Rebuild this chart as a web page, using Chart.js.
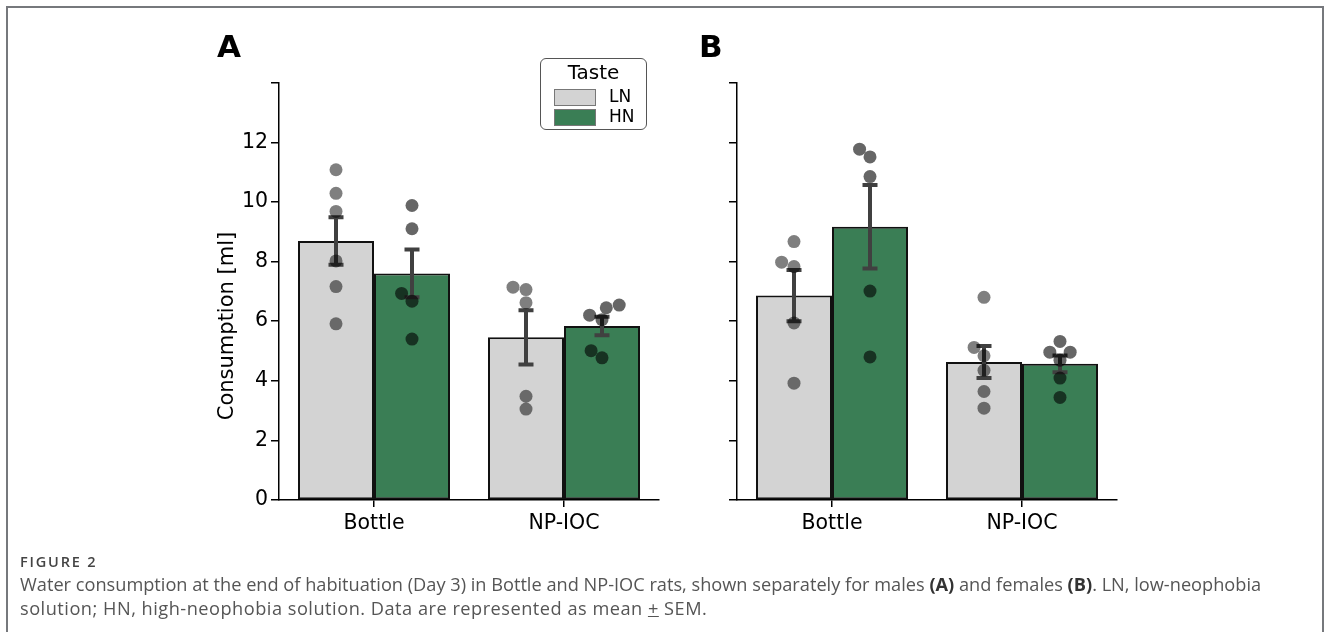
<!DOCTYPE html>
<html>
<head>
<meta charset="utf-8">
<script src="https://cdn.jsdelivr.net/npm/chart.js@4.4.0/dist/chart.umd.min.js"></script>
<style>
  body { margin: 0; width: 1330px; height: 632px; background: #fff; overflow: hidden; position: relative; font-family: 'DejaVu Sans', sans-serif; }
  .frame { position: absolute; left: 6px; top: 6px; width: 1314px; height: 640px; border: 2px solid #76787c; border-bottom: none; }
  .panel { position: absolute; top: 0; width: 670px; height: 560px; }
  .panel canvas { position: absolute; left: 0; top: 0; }
  .letter { position: absolute; top: 31px; font: bold 31px/31px 'DejaVu Sans', sans-serif; color: #000; }
  .ytitle { position: absolute; left: 225.5px; top: 326px; transform: translate(-50%, -50%) rotate(-90deg); font: 21px/21px 'DejaVu Sans', sans-serif; white-space: nowrap; color: #000; }
  .legend { position: absolute; left: 540px; top: 58px; width: 105px; height: 70px; border: 1px solid #555; border-radius: 6px; background: #fff; z-index: 5; }
  .legend .title { position: absolute; left: 0; width: 100%; top: 1px; text-align: center; font: 20px/24px 'DejaVu Sans', sans-serif; }
  .legend .row { position: absolute; left: 13px; height: 16px; }
  .legend .sw { position: absolute; left: 0; top: 0; width: 40px; height: 15px; border: 1px solid #777; }
  .legend .lab { position: absolute; left: 55px; top: -3px; font: 17px/20px 'DejaVu Sans', sans-serif; }
  .caption { position: absolute; left: 20px; top: 553px; font-family: 'Open Sans', sans-serif; color: #555; }
  .caption .fig { font-size: 14.5px; line-height: 18px; font-weight: 600; color: #444; letter-spacing: 1.8px; }
  .caption .txt { font-size: 18.2px; line-height: 23.5px; white-space: nowrap; margin-top: 2px; }
  .caption .l2 { letter-spacing: 0.5px; }
  .caption b { color: #333; }
</style>
</head>
<body>
<div class="frame"></div>

<div class="panel" style="left:0">
  <canvas id="barsA" width="670" height="560"></canvas>
  <canvas id="dotsA" width="670" height="560"></canvas>
</div>
<div class="panel" style="left:458px">
  <canvas id="barsB" width="670" height="560"></canvas>
  <canvas id="dotsB" width="670" height="560"></canvas>
</div>

<div class="letter" style="left:217px">A</div>
<div class="letter" style="left:699px">B</div>
<div class="ytitle">Consumption [ml]</div>

<div class="legend">
  <div class="title">Taste</div>
  <div class="row" style="top:30px"><div class="sw" style="background:#d3d3d3"></div><div class="lab">LN</div></div>
  <div class="row" style="top:50px"><div class="sw" style="background:#3a7e55"></div><div class="lab">HN</div></div>
</div>

<div class="caption">
  <div class="fig">FIGURE 2</div>
  <div class="txt">Water consumption at the end of habituation (Day 3) in Bottle and NP-IOC rats, shown separately for males <b>(A)</b> and females <b>(B)</b>. LN, low-neophobia<br><span class="l2">solution; HN, high-neophobia solution. Data are represented as mean <u>+</u> SEM.</span></div>
</div>

<script>
// groups on the x axis
const groups = ['Bottle', 'NP-IOC'];
const yTicks = [0, 2, 4, 6, 8, 10, 12, 14];

// males (A): bar means and SEM, per group
const maleLNMean = [8.69, 5.46];
const maleHNMean = [7.60, 5.84];
const maleLNSem = [0.80, 0.91];
const maleHNSem = [0.80, 0.31];

// females (B)
const femaleLNMean = [6.86, 4.63];
const femaleHNMean = [9.17, 4.57];
const femaleLNSem = [0.86, 0.54];
const femaleHNSem = [1.40, 0.28];

// individual rats, [Bottle values, NP-IOC values]
const maleLNRats = [[11.08, 10.29, 9.68, 8.02, 7.16, 5.91], [7.06, 7.14, 6.62, 3.48, 3.05]];
const maleHNRats = [[9.88, 9.10, 6.93, 6.67, 5.40], [6.20, 6.05, 6.45, 6.54, 5.01, 4.77]];
const femaleLNRats = [[8.67, 7.98, 7.83, 5.94, 3.92], [6.80, 5.12, 4.84, 4.35, 3.64, 3.08]];
const femaleHNRats = [[11.77, 11.51, 10.85, 7.01, 4.80], [5.32, 4.96, 4.96, 4.69, 4.09, 3.44]];

const LN_COLOR = '#d3d3d3';
const HN_COLOR = '#3a7e55';
const DOT_R = 6.5;
const PADDING = { left: 0, right: 11, top: 82.7, bottom: 20 };
const Y_AXIS_W = 279;
const X_AXIS_H = 40;

// barras de erro (media +- SEM), desenhadas logo depois de cada dataset de barras
const errorBarPlugin = {
    id: 'errorBars',
    afterDatasetDraw(chart, args) {
        const ds = chart.data.datasets[args.index];
        if (!ds.sem) return;
        const ctx = chart.ctx;
        const y = chart.scales.y;
        ctx.save();
        ctx.strokeStyle = '#404040';
        ctx.lineWidth = 4;
        args.meta.data.forEach((bar, i) => {
            const top = y.getPixelForValue(ds.data[i] + ds.sem[i]);
            const bot = y.getPixelForValue(ds.data[i] - ds.sem[i]);
            ctx.beginPath();
            ctx.moveTo(bar.x, top); ctx.lineTo(bar.x, bot);
            ctx.moveTo(bar.x - 7.5, top); ctx.lineTo(bar.x + 7.5, top);
            ctx.moveTo(bar.x - 7.5, bot); ctx.lineTo(bar.x + 7.5, bot);
            ctx.stroke();
        });
        ctx.restore();
    }
};

// beeswarm like seaborn's swarmplot, in pixel space
function swarm(values, cx, yScale, r) {
    const pts = values.map(v => ({ v: v, x: cx, y: -yScale.getPixelForValue(v) }))
        .sort((a, b) => a.y - b.y);
    const placed = [pts[0]];
    for (let k = 1; k < pts.length; k++) {
        const p = pts[k];
        const nb = [];
        for (let j = placed.length - 1; j >= 0; j--) {
            if (p.y - placed[j].y < 2 * r) nb.unshift(placed[j]); else break;
        }
        let cands = [p.x];
        let leftFirst = true;
        nb.forEach(q => {
            const dy = p.y - q.y;
            const dx = Math.sqrt(Math.max(4 * r * r - dy * dy, 0)) * 1.05;
            if (leftFirst) cands.push(q.x - dx, q.x + dx); else cands.push(q.x + dx, q.x - dx);
            leftFirst = !leftFirst;
        });
        cands = cands.map((x, i) => ({ x: x, i: i }))
            .sort((a, b) => (Math.abs(a.x - cx) - Math.abs(b.x - cx)) || (a.i - b.i));
        let chosen = cands[0].x;
        if (nb.length) {
            for (const c of cands) {
                if (nb.every(q => (q.x - c.x) ** 2 + (q.y - p.y) ** 2 >= 4 * r * r - 1e-6)) { chosen = c.x; break; }
            }
        }
        placed.push({ v: p.v, x: chosen, y: p.y });
    }
    return placed;
}

function makePanel(id, lnMean, hnMean, lnSem, hnSem, lnRats, hnRats, showLabels) {
    const barDataset = (label, mean, sem, color) => ({
        label: label,
        data: mean,
        sem: sem,
        backgroundColor: color,
        borderColor: '#111',
        borderWidth: 2,
        borderSkipped: false,
        categoryPercentage: 0.8,
        barPercentage: 1.0
    });

    const bars = new Chart(document.getElementById('bars' + id), {
        type: 'bar',
        data: {
            labels: groups,
            datasets: [
                barDataset('LN', lnMean, lnSem, LN_COLOR),
                barDataset('HN', hnMean, hnSem, HN_COLOR)
            ]
        },
        options: {
            responsive: false,
            animation: false,
            events: [],
            layout: { padding: PADDING },
            plugins: { legend: { display: false }, tooltip: { enabled: false } },
            scales: {
                x: {
                    type: 'category',
                    offset: true,
                    grid: { display: true, offset: false, drawOnChartArea: false, drawTicks: true, tickLength: 7, color: '#000', lineWidth: 1.5 },
                    border: { display: true, color: '#000', width: 1.5 },
                    ticks: { color: '#000', font: { family: 'DejaVu Sans', size: 20.5 }, padding: 4, maxRotation: 0 },
                    afterFit: s => { s.height = X_AXIS_H; }
                },
                y: {
                    type: 'linear',
                    min: yTicks[0],
                    max: yTicks[yTicks.length - 1],
                    afterBuildTicks: s => { s.ticks = yTicks.map(v => ({ value: v })); },
                    grid: { display: true, drawOnChartArea: false, drawTicks: true, tickLength: 8, color: '#000', lineWidth: 1.5 },
                    border: { display: true, color: '#000', width: 1.5 },
                    ticks: {
                        color: '#000',
                        font: { family: 'DejaVu Sans', size: 20.5 },
                        padding: 3,
                        callback: v => (showLabels && v !== 14) ? String(v) : ''
                    },
                    afterFit: s => { s.width = Y_AXIS_W; }
                }
            }
        },
        plugins: [errorBarPlugin]
    });

    // pontos individuais num segundo grafico por cima, com a mesma area
    const ratsDataset = (alpha) => ({
        data: [],
        backgroundColor: 'rgba(0,0,0,' + alpha + ')',
        borderWidth: 0,
        pointRadius: DOT_R
    });
    const hidden = { grid: { display: false }, border: { display: false }, ticks: { display: false } };
    const dots = new Chart(document.getElementById('dots' + id), {
        type: 'scatter',
        data: { datasets: [ratsDataset(0.5), ratsDataset(0.6)] },
        options: {
            responsive: false,
            animation: false,
            events: [],
            layout: { padding: PADDING },
            plugins: { legend: { display: false }, tooltip: { enabled: false } },
            scales: {
                x: Object.assign({ type: 'linear', min: -0.5, max: 1.5, afterFit: s => { s.height = X_AXIS_H; } }, hidden),
                y: Object.assign({ type: 'linear', min: yTicks[0], max: yTicks[yTicks.length - 1], afterFit: s => { s.width = Y_AXIS_W; } }, hidden)
            }
        }
    });

    [lnRats, hnRats].forEach((rats, h) => {
        const barMeta = bars.getDatasetMeta(h);
        const data = [];
        rats.forEach((vals, g) => {
            const cx = barMeta.data[g].x;
            swarm(vals, cx, dots.scales.y, DOT_R - 0.2).forEach(p => {
                data.push({ x: dots.scales.x.getValueForPixel(p.x), y: p.v });
            });
        });
        dots.data.datasets[h].data = data;
    });
    dots.update('none');
}

makePanel('A', maleLNMean, maleHNMean, maleLNSem, maleHNSem, maleLNRats, maleHNRats, true);
makePanel('B', femaleLNMean, femaleHNMean, femaleLNSem, femaleHNSem, femaleLNRats, femaleHNRats, false);
</script>
</body>
</html>
